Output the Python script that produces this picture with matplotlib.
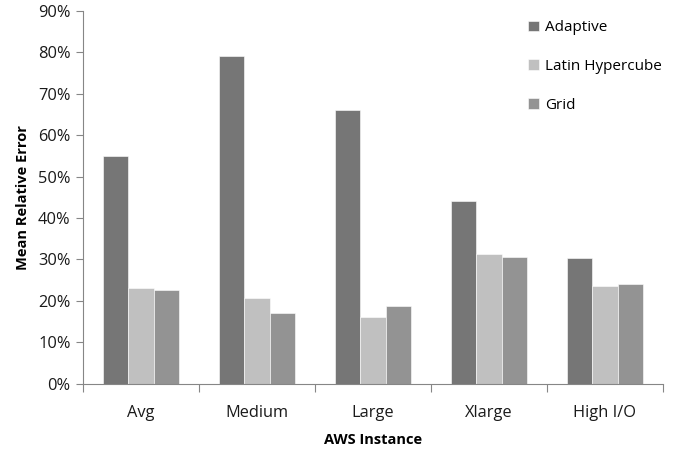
import numpy as np
import matplotlib
matplotlib.use('Agg')
import matplotlib.pyplot as plt
from matplotlib.ticker import PercentFormatter

# data
instances = ['Avg', 'Medium', 'Large', 'Xlarge', 'High I/O']
series = ['Adaptive', 'Latin Hypercube', 'Grid']
adaptive = [55.0, 79.0, 66.0, 44.2, 30.4]
latin = [23.0, 20.6, 16.2, 31.3, 23.6]
grid = [22.7, 17.0, 18.8, 30.5, 24.2]
colors = ['#767676', '#c0c0c0', '#939393']

plt.rcParams['font.family'] = ['Open Sans', 'DejaVu Sans']

fig = plt.figure(figsize=(6.75, 4.51), dpi=100)
ax = fig.add_axes([0.123, 0.149, 0.859, 0.827])

x = np.arange(len(instances))
width = 0.22
for i, (name, vals) in enumerate(zip(series, [adaptive, latin, grid])):
    ax.bar(x + (i - 1) * width, vals, width, color=colors[i], label=name,
           edgecolor='white', linewidth=0.4)

ax.set_xlim(-0.5, len(instances) - 0.5)
ax.set_ylim(0, 90)
ax.set_yticks(np.arange(0, 91, 10))
ax.yaxis.set_major_formatter(PercentFormatter(decimals=0))

# category labels centred, ticks on the boundaries
ax.set_xticks(x)
ax.set_xticklabels(instances)
ax.set_xticks(np.arange(-0.5, len(instances)), minor=True)
ax.tick_params(axis='x', which='major', length=0, labelsize=11.8, pad=15, colors='#1a1a1a')
ax.tick_params(axis='x', which='minor', length=6, width=0.8, color='#868686', direction='out')
ax.tick_params(axis='y', length=5, width=0.8, color='#868686', labelsize=11.8, pad=4,
               labelcolor='#1a1a1a')

for side in ['top', 'right']:
    ax.spines[side].set_visible(False)
for side in ['left', 'bottom']:
    ax.spines[side].set_color('#868686')
    ax.spines[side].set_linewidth(0.8)

ax.set_ylabel('Mean Relative Error', fontsize=10.5, fontweight='bold', labelpad=6)
ax.set_xlabel('AWS Instance', fontsize=10.5, fontweight='bold', labelpad=9)

ax.legend(loc='upper left', bbox_to_anchor=(0.771, 0.972), bbox_transform=fig.transFigure,
          frameon=False, fontsize=11, handlelength=0.7, handleheight=0.7,
          handletextpad=0.4, labelspacing=1.55, borderpad=0)

fig.savefig('out.png', dpi=100)
